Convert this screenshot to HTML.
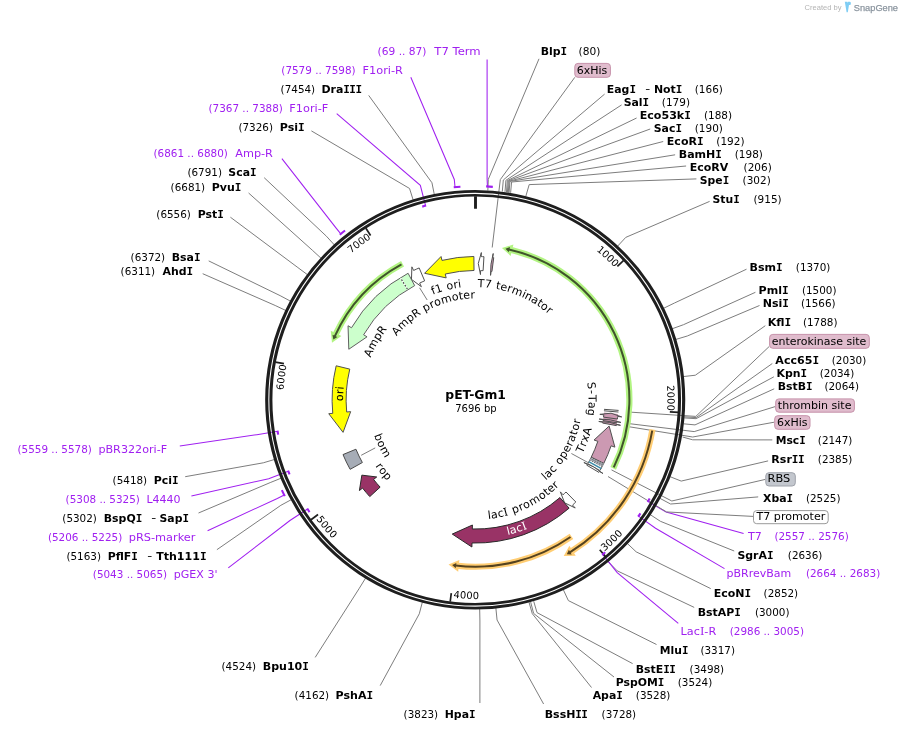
<!DOCTYPE html>
<html lang="en"><head><meta charset="utf-8"><title>pET-Gm1 map</title>
<style>
html,body{margin:0;padding:0;background:#fff}
body{width:902px;height:731px;overflow:hidden}
svg{display:block;font-family:'DejaVu Sans','Liberation Sans',sans-serif}
svg text{white-space:pre}
</style></head><body>
<svg width="902" height="731" viewBox="0 0 902 731">
<defs>

</defs>
<rect width="902" height="731" fill="#fff"/>
<polyline points="539,58.8 488.3,179.3 487.85,190.5" fill="none" stroke="#7d7d7d" stroke-width="1"/>
<polyline points="604.6,94.1 503.3,180 502.3,191.5" fill="none" stroke="#7d7d7d" stroke-width="1"/>
<polyline points="621.6,104.9 505.9,180.3 505,191.9" fill="none" stroke="#7d7d7d" stroke-width="1"/>
<polyline points="636.6,118 507.3,180.6 506.5,192" fill="none" stroke="#7d7d7d" stroke-width="1"/>
<polyline points="650.2,129 508.3,180.8 507.4,192.2" fill="none" stroke="#7d7d7d" stroke-width="1"/>
<polyline points="663.2,141.5 509.1,181.2 508.3,192.4" fill="none" stroke="#7d7d7d" stroke-width="1"/>
<polyline points="675.1,154.8 509.9,181.4 509.1,192.6" fill="none" stroke="#7d7d7d" stroke-width="1"/>
<polyline points="686.1,166 511.6,182 510.6,192.8" fill="none" stroke="#7d7d7d" stroke-width="1"/>
<polyline points="696.4,178.9 529.2,184.6 525.9,196" fill="none" stroke="#7d7d7d" stroke-width="1"/>
<polyline points="709.6,201.4 625.76,237.38 617.34,246.48" fill="none" stroke="#7d7d7d" stroke-width="1"/>
<polyline points="746.5,269.2 674.45,303.03 663.29,308.45" fill="none" stroke="#7d7d7d" stroke-width="1"/>
<polyline points="755.4,292.3 683.57,324.66 671.91,328.87" fill="none" stroke="#7d7d7d" stroke-width="1"/>
<polyline points="759.5,305.5 687.31,335.99 675.44,339.56" fill="none" stroke="#7d7d7d" stroke-width="1"/>
<polyline points="765.3,325.7 695.34,375.23 683.01,376.6" fill="none" stroke="#7d7d7d" stroke-width="1"/>
<polyline points="772.3,363.5 696.1,417.6 684.1,416.8" fill="none" stroke="#7d7d7d" stroke-width="1"/>
<polyline points="773.9,376.8 696.1,418.7 684.1,417.9" fill="none" stroke="#7d7d7d" stroke-width="1"/>
<polyline points="774.2,388.8 695,424.9 683.4,423.8" fill="none" stroke="#7d7d7d" stroke-width="1"/>
<polyline points="772.3,439.9 692.7,439.8 682.6,437" fill="none" stroke="#7d7d7d" stroke-width="1"/>
<polyline points="768.1,460.9 681.21,481.09 669.68,476.53" fill="none" stroke="#7d7d7d" stroke-width="1"/>
<polyline points="758.2,496.9 670.59,504.03 659.65,498.19" fill="none" stroke="#7d7d7d" stroke-width="1"/>
<polyline points="734.2,551 660.35,521.27 649.99,514.46" fill="none" stroke="#7d7d7d" stroke-width="1"/>
<polyline points="710.7,588.6 636.17,551.83 627.16,543.31" fill="none" stroke="#7d7d7d" stroke-width="1"/>
<polyline points="694.2,607.4 617.2,570.8 608,561.5" fill="none" stroke="#7d7d7d" stroke-width="1"/>
<polyline points="656.5,644.5 568.36,600.58 563.15,589.33" fill="none" stroke="#7d7d7d" stroke-width="1"/>
<polyline points="632.6,663.6 537,612.6 533.7,601.2" fill="none" stroke="#7d7d7d" stroke-width="1"/>
<polyline points="614,677 533.6,613.4 530.6,601.8" fill="none" stroke="#7d7d7d" stroke-width="1"/>
<polyline points="591.5,687.5 532.3,613.7 529,602.2" fill="none" stroke="#7d7d7d" stroke-width="1"/>
<polyline points="543.6,704 497.05,619.99 495.83,607.65" fill="none" stroke="#7d7d7d" stroke-width="1"/>
<polyline points="479.9,703 479.92,621 479.66,608.61" fill="none" stroke="#7d7d7d" stroke-width="1"/>
<polyline points="380.2,685.6 419.29,613.82 422.43,601.82" fill="none" stroke="#7d7d7d" stroke-width="1"/>
<polyline points="315.2,657.4 359.37,588.19 365.87,577.63" fill="none" stroke="#7d7d7d" stroke-width="1"/>
<polyline points="216.9,549.7 280.89,505.3 291.79,499.39" fill="none" stroke="#7d7d7d" stroke-width="1"/>
<polyline points="198.5,513 270.19,482.6 281.69,477.96" fill="none" stroke="#7d7d7d" stroke-width="1"/>
<polyline points="185.2,476.7 263.28,462.82 275.16,459.29" fill="none" stroke="#7d7d7d" stroke-width="1"/>
<polyline points="202.7,273.7 275.18,305.48 286.4,310.76" fill="none" stroke="#7d7d7d" stroke-width="1"/>
<polyline points="208.7,260.9 280.12,295.63 291.07,301.46" fill="none" stroke="#7d7d7d" stroke-width="1"/>
<polyline points="230.4,217.2 297.91,267.58 307.85,274.98" fill="none" stroke="#7d7d7d" stroke-width="1"/>
<polyline points="248.6,193 312.29,250.18 321.43,258.56" fill="none" stroke="#7d7d7d" stroke-width="1"/>
<polyline points="264.2,177.7 326.37,236.16 334.72,245.32" fill="none" stroke="#7d7d7d" stroke-width="1"/>
<polyline points="311.4,130.9 409.56,188.47 413.25,200.31" fill="none" stroke="#7d7d7d" stroke-width="1"/>
<polyline points="368.7,95.4 431.96,182.76 434.39,194.91" fill="none" stroke="#7d7d7d" stroke-width="1"/>
<polyline points="487.1,59.5 487.1,179 487.43,186.49" fill="none" stroke="#a020f0" stroke-width="1.05"/>
<polyline points="743.6,533.6 666.08,512.06 647.99,501.41" fill="none" stroke="#a020f0" stroke-width="1.05"/>
<polyline points="724.5,568.6 655.55,528.27 638.46,516.08" fill="none" stroke="#a020f0" stroke-width="1.05"/>
<polyline points="678.3,623.3 617.2,572.6 602.63,554.45" fill="none" stroke="#a020f0" stroke-width="1.05"/>
<polyline points="228.3,567.8 289.95,520.51 307.55,509.05" fill="none" stroke="#a020f0" stroke-width="1.05"/>
<polyline points="207.6,530.7 277.31,498.41 284.2,494.98" fill="none" stroke="#a020f0" stroke-width="1.05"/>
<polyline points="191.4,496 268.67,478.73 288.29,471.24" fill="none" stroke="#a020f0" stroke-width="1.05"/>
<polyline points="179.8,446 256.87,434.65 277.61,431.34" fill="none" stroke="#a020f0" stroke-width="1.05"/>
<polyline points="281.9,158.6 335.95,227.91 340.81,233.89" fill="none" stroke="#a020f0" stroke-width="1.05"/>
<polyline points="336.7,113.6 420.34,185.41 425.56,205.75" fill="none" stroke="#a020f0" stroke-width="1.05"/>
<polyline points="410.8,77.2 454.29,179.46 455.03,187.12" fill="none" stroke="#a020f0" stroke-width="1.05"/>
<polyline points="574.8,77.3 500.3,179.6 492.2,247.5" fill="none" stroke="#7d7d7d" stroke-width="1"/>
<polyline points="769.3,346.4 695.8,416.4 627.41,411.94" fill="none" stroke="#7d7d7d" stroke-width="1"/>
<polyline points="775.2,406.6 694.2,431.6 626.08,423.25" fill="none" stroke="#7d7d7d" stroke-width="1"/>
<polyline points="774.2,422.2 692.7,437 625.59,426.2" fill="none" stroke="#7d7d7d" stroke-width="1"/>
<polyline points="765.3,479.4 671.8,501 611.5,469.9" fill="none" stroke="#7d7d7d" stroke-width="1"/>
<polyline points="753,516.4 666.5,511.95 608,476.5" fill="none" stroke="#7d7d7d" stroke-width="1"/>
<polyline points="419.6,287.8 427.2,300" fill="none" stroke="#7d7d7d" stroke-width="1"/>
<polyline points="361.2,455.3 375.2,447.9" fill="none" stroke="#7d7d7d" stroke-width="1"/>
<polyline points="571.4,453.5 587.9,462.5" fill="none" stroke="#7d7d7d" stroke-width="1"/>
<path d="M265.15 399.75A210.05 209.8 0 1 0 685.25 399.75A210.05 209.8 0 1 0 265.15 399.75ZM268.3 399.75A206.9 206.9 0 1 0 682.1 399.75A206.9 206.9 0 1 0 268.3 399.75Z" fill="#1e1e1e" fill-rule="evenodd"/>
<path d="M269.35 399.75A205.85 205.8 0 1 0 681.05 399.75A205.85 205.8 0 1 0 269.35 399.75ZM272.4 399.75A202.8 203.2 0 1 0 678 399.75A202.8 203.2 0 1 0 272.4 399.75Z" fill="#1e1e1e" fill-rule="evenodd"/>
<line x1="475.5" y1="196.25" x2="475.5" y2="208.75" stroke="#1e1e1e" stroke-width="2.9"/>
<line x1="623.69" y1="260.39" x2="617.35" y2="266.34" stroke="#1e1e1e" stroke-width="1.7"/>
<line x1="678.51" y1="412.37" x2="669.83" y2="411.83" stroke="#1e1e1e" stroke-width="1.7"/>
<line x1="605.3" y1="556.4" x2="599.75" y2="549.7" stroke="#1e1e1e" stroke-width="1.7"/>
<line x1="450.21" y1="601.69" x2="451.29" y2="593.05" stroke="#1e1e1e" stroke-width="1.7"/>
<line x1="311" y1="519.69" x2="318.03" y2="514.56" stroke="#1e1e1e" stroke-width="1.7"/>
<line x1="275.42" y1="362.09" x2="283.97" y2="363.7" stroke="#1e1e1e" stroke-width="1.7"/>
<line x1="365.89" y1="228.23" x2="370.57" y2="235.56" stroke="#1e1e1e" stroke-width="1.7"/>
<path d="M486.13 186.42A213.6 213.6 0 0 1 492.81 186.86" fill="none" stroke="#a020f0" stroke-width="2.1"/>
<path d="M649.69 498.46A200.3 200.3 0 0 1 647.68 501.92" fill="none" stroke="#a020f0" stroke-width="2.1"/>
<path d="M640.41 513.29A200.3 200.3 0 0 1 638.11 516.56" fill="none" stroke="#a020f0" stroke-width="2.1"/>
<path d="M605.23 552.27A200.3 200.3 0 0 1 602.16 554.83" fill="none" stroke="#a020f0" stroke-width="2.1"/>
<path d="M309.54 512.05A200.3 200.3 0 0 1 307.22 508.55" fill="none" stroke="#a020f0" stroke-width="2.1"/>
<path d="M284.79 496.14A213.6 213.6 0 0 1 281.86 490.11" fill="none" stroke="#a020f0" stroke-width="2.1"/>
<path d="M289.53 474.4A200.3 200.3 0 0 1 288.08 470.68" fill="none" stroke="#a020f0" stroke-width="2.1"/>
<path d="M278.17 434.69A200.3 200.3 0 0 1 277.51 430.75" fill="none" stroke="#a020f0" stroke-width="2.1"/>
<path d="M339.8 234.71A213.6 213.6 0 0 1 345.04 230.54" fill="none" stroke="#a020f0" stroke-width="2.1"/>
<path d="M422.24 206.63A200.3 200.3 0 0 1 426.14 205.6" fill="none" stroke="#a020f0" stroke-width="2.1"/>
<path d="M453.73 187.25A213.6 213.6 0 0 1 460.41 186.68" fill="none" stroke="#a020f0" stroke-width="2.1"/>
<text aria-label="1000" font-size="9.9" fill="#000" x="596.19 601.02 605.71 610.27" y="250.47 254.51 258.71 263.06" rotate="39.92 41.8 43.68 45.55">1000</text>
<text aria-label="2000" font-size="9.9" fill="#000" x="666.9 667.26 667.42 667.37" y="385.54 391.82 398.12 404.42" rotate="86.7 88.57 90.45 92.33">2000</text>
<text aria-label="3000" font-size="9.9" fill="#000" x="604.41 609.33 614.09 618.71" y="551.56 547.24 542.77 538.14" rotate="-41.26 -43.15 -45.03 -46.91">3000</text>
<text aria-label="4000" font-size="9.9" fill="#000" x="453.13 459.64 466.16 472.7" y="597.73 598.35 598.76 598.96" rotate="5.51 3.63 1.75 -0.13">4000</text>
<text aria-label="5000" font-size="9.9" fill="#000" x="315.88 319.88 324.06 328.39" y="519.1 524.27 529.31 534.21" rotate="52.29 50.41 48.53 46.65">5000</text>
<text aria-label="6000" font-size="9.9" fill="#000" x="283.61 284.03 284.66 285.48" y="390.15 383.87 377.6 371.36" rotate="273.81 275.68 277.56 279.44">6000</text>
<text aria-label="7000" font-size="9.9" fill="#000" x="351.05 355.92 360.91 366.03" y="253.42 249.42 245.59 241.92" rotate="320.58 322.46 324.34 326.22">7000</text>
<path d="M613.21 468.48A154 154 0 0 0 511.52 250.05" fill="none" stroke="#b2f482" stroke-width="6.2"/>
<path d="M501.93 248.05L513.41 244.43L510.6 255.89Z" fill="#b2f482"/>
<path d="M613.74 467.4A154 154 0 0 0 508.89 249.44" fill="none" stroke="#40542b" stroke-width="2.0"/>
<path d="M505.46 248.71L509.97 246.91L508.78 252.18Z" fill="#40542b"/>
<path d="M402.55 263.73A154.3 154.3 0 0 0 335.88 333.86" fill="none" stroke="#b2f482" stroke-width="6.2"/>
<path d="M331.98 342.85L330.76 330.87L341.42 335.94Z" fill="#b2f482"/>
<path d="M401.49 264.3A154.3 154.3 0 0 0 334.74 336.31" fill="none" stroke="#40542b" stroke-width="2.0"/>
<path d="M333.34 339.52L332.49 334.74L337.41 336.97Z" fill="#40542b"/>
<path d="M652.43 429.43A179.5 179.5 0 0 1 572.14 550.95" fill="none" stroke="#ffcd73" stroke-width="6.2"/>
<path d="M563.75 556L575.76 555.64L569.37 545.72Z" fill="#ffcd73"/>
<path d="M652.23 430.61A179.5 179.5 0 0 1 569.86 552.39" fill="none" stroke="#54421f" stroke-width="2.0"/>
<path d="M566.86 554.2L571.71 554.42L568.85 549.83Z" fill="#54421f"/>
<path d="M571.45 536.36A167 167 0 0 1 458.26 565.87" fill="none" stroke="#ffcd73" stroke-width="6.2"/>
<path d="M448.55 564.58L458.17 571.79L459.35 560.05Z" fill="#ffcd73"/>
<path d="M570.47 537.05A167 167 0 0 1 455.58 565.57" fill="none" stroke="#54421f" stroke-width="2.0"/>
<path d="M452.11 565.12L455.76 568.31L456.39 562.95Z" fill="#54421f"/>
<path d="M483.1 270.68L483.94 256.7A143.3 143.3 0 0 0 481.19 256.57L481.35 252.57L478.29 263.48L480.46 274.55L480.62 270.56A129.3 129.3 0 0 1 483.1 270.68Z" fill="#ffffff" stroke="#505050" stroke-width="1" stroke-linejoin="miter"/>
<path d="M491.93 271.51L493.72 257.63A143.3 143.3 0 0 0 492.73 257.5L493.21 253.53L490.95 264.34L490.55 275.37L491.04 271.4A129.3 129.3 0 0 1 491.93 271.51Z" fill="#cc99b2" stroke="#505050" stroke-width="1" stroke-linejoin="miter"/>
<path d="M604.04 409.33L618.6 410.41" stroke="#505050" stroke-width="1"/>
<path d="M603.93 410.79L618.47 412.04" stroke="#505050" stroke-width="1"/>
<path d="M604.07 412.5L618 413.88A143.3 143.3 0 0 1 616.35 425.58L602.58 423.06A129.3 129.3 0 0 0 604.07 412.5Z" fill="#cc99b2" stroke="none" stroke-width="0"/>
<path d="M603.53 417.12L617.4 419A143.3 143.3 0 0 0 617.72 416.44L621.7 416.91L611.04 413.19L599.85 414.35L603.82 414.81A129.3 129.3 0 0 1 603.53 417.12Z" fill="#cc99b2" stroke="#505050" stroke-width="1" stroke-linejoin="miter"/>
<path d="M603.01 420.56L616.83 422.81A143.3 143.3 0 0 0 616.99 421.83L620.94 422.45L610.21 419.82L599.2 419.06L603.16 419.67A129.3 129.3 0 0 1 603.01 420.56Z" fill="#cc99b2" stroke="#505050" stroke-width="1" stroke-linejoin="miter"/>
<path d="M602.58 423.06L616.35 425.58A143.3 143.3 0 0 0 616.53 424.6L620.47 425.3L609.8 422.46L598.8 421.48L602.74 422.17A129.3 129.3 0 0 1 602.58 423.06Z" fill="#cc99b2" stroke="#505050" stroke-width="1" stroke-linejoin="miter"/>
<path d="M591.23 457.21L603.77 463.43A143.3 143.3 0 0 0 611.09 445.83L614.88 447.12L609.14 426.07L594.04 440.04L597.83 441.33A129.3 129.3 0 0 1 591.23 457.21Z" fill="#cc99b2" stroke="#505050" stroke-width="1" stroke-linejoin="miter"/>
<path d="M591.19 457.3L603.72 463.53A143.3 143.3 0 0 1 599.99 470.55L587.81 463.64A129.3 129.3 0 0 0 591.19 457.3Z" fill="#ffffff" stroke="#505050" stroke-width="0.9"/>
<path d="M591.19 457.3L603.72 463.53A143.3 143.3 0 0 1 602.18 466.55L589.79 460.03A129.3 129.3 0 0 0 591.19 457.3Z" fill="#aeb2ba" stroke="none" stroke-width="0"/>
<path d="M591.19 457.3L603.72 463.53" stroke="#3a3a3a" stroke-width="0.8" stroke-dasharray="1 1" stroke-dashoffset="0"/>
<path d="M590.52 458.62L602.99 464.99" stroke="#3a3a3a" stroke-width="0.8" stroke-dasharray="1 1" stroke-dashoffset="0.66"/>
<path d="M589.79 460.03L602.18 466.55" stroke="#3a3a3a" stroke-width="0.8" stroke-dasharray="1 1" stroke-dashoffset="1.32"/>
<path d="M589.15 461.24L601.46 467.89A143.3 143.3 0 0 1 600.9 468.92L588.64 462.16A129.3 129.3 0 0 0 589.15 461.24Z" fill="#2e86a3" stroke="#2e86a3" stroke-width="0.3"/>
<path d="M586.86 465.28L598.93 472.38A143.3 143.3 0 0 0 599.46 471.47L602.93 473.47L593.9 467.1L583.88 462.46L587.34 464.46A129.3 129.3 0 0 1 586.86 465.28Z" fill="#ffffff" stroke="#505050" stroke-width="1" stroke-linejoin="miter"/>
<path d="M566 492L575.81 501.98A143.3 143.3 0 0 1 572.55 505.09L575.26 508.03L564.61 502.8L560.35 491.86L563.06 494.8A129.3 129.3 0 0 0 566 492Z" fill="#ffffff" stroke="#505050" stroke-width="1" stroke-linejoin="miter"/>
<path d="M559.95 497.58L569.1 508.17A143.3 143.3 0 0 1 471.98 543.01L471.88 547.01L452.26 534.07L472.41 525.01L472.31 529.01A129.3 129.3 0 0 0 559.95 497.58Z" fill="#993366" stroke="#2a2a2a" stroke-width="1" stroke-linejoin="miter"/>
<path d="M380.1 487.14L369.78 496.6A143.3 143.3 0 0 1 362.56 488.08L359.41 490.55L361.85 475.15L376.73 476.98L373.58 479.45A129.3 129.3 0 0 0 380.1 487.14Z" fill="#993366" stroke="#2a2a2a" stroke-width="1" stroke-linejoin="miter"/>
<path d="M362.37 462.53L350.13 469.33A143.3 143.3 0 0 1 343.01 454.59L355.94 449.23A129.3 129.3 0 0 0 362.37 462.53Z" fill="#a6acb6" stroke="#4a4a4a" stroke-width="1"/>
<path d="M349.78 369.11L336.18 365.8A143.3 143.3 0 0 0 332.75 413.33L328.76 413.71L343.06 432.37L350.66 411.63L346.68 412.01A129.3 129.3 0 0 1 349.78 369.11Z" fill="#ffff00" stroke="#505050" stroke-width="1" stroke-linejoin="miter"/>
<path d="M414.66 285.61L408.08 273.25A143.3 143.3 0 0 0 351.5 327.76L348.04 325.75L348.8 349.24L367.06 336.8L363.6 334.79A129.3 129.3 0 0 1 414.66 285.61Z" fill="#ccffcc" stroke="#606060" stroke-width="1" stroke-linejoin="miter"/>
<path d="M407.38 289.08L400.68 278.18" stroke="#ffffff" stroke-width="1.3"/>
<path d="M407.38 289.08L400.68 278.18" stroke="#333" stroke-width="1.1" stroke-dasharray="1.6 1.6"/>
<path d="M424.65 280.82L419.16 267.95A143.3 143.3 0 0 0 413.62 270.45L411.89 266.84L411.47 279.37L421.38 286.69L419.65 283.09A129.3 129.3 0 0 1 424.65 280.82Z" fill="#ffffff" stroke="#505050" stroke-width="1" stroke-linejoin="miter"/>
<path d="M474.03 270.46L473.88 256.46A143.3 143.3 0 0 0 441.98 260.4L441.05 256.51L424.58 273.28L446.18 277.9L445.25 274.01A129.3 129.3 0 0 1 474.03 270.46Z" fill="#ffff00" stroke="#505050" stroke-width="1" stroke-linejoin="miter"/>
<text aria-label="T7 terminator" font-size="11" fill="#000" x="477.6 484.51 491.77 495.52 499.79 506.46 511.08 521.16 524.04 530.32 536.16 539.86 545.41" y="287.02 287.36 288.23 288.84 289.67 291.39 292.71 296.75 298.03 301.28 304.81 307.24 311.4" rotate="2.82 6.41 9.24 11.38 14.22 17.15 21.16 24.73 27.33 30.86 33.71 36.58 39.54">T7 terminator</text>
<text aria-label="f1 ori" font-size="11" fill="#000" x="432.85 436.57 443.54 447.18 453.95 458.57" y="294.83 293.36 291.11 290.07 288.58 287.8" rotate="-21.1 -18.28 -15.46 -12.73 -9.78 -7.78">f1 ori</text>
<text aria-label="AmpR promoter" font-size="11" fill="#000" x="396.46 401.52 409.45 415.01 421.64 424.85 431.2 435.5 441.94 452.45 459.2 463.52 470.4" y="336.15 330.24 322.78 318.33 313.87 311.9 308.58 306.58 303.99 301.03 299.73 299.09 298.55" rotate="-49.01 -43.72 -38.62 -34.4 -31.06 -27.94 -24.59 -21.28 -16.23 -11.18 -7.98 -4.82 -1.55">AmpR promoter</text>
<text aria-label="AmpR" font-size="11" fill="#000" x="370.38 373.44 378.68 382.53" y="357.86 350.74 341.22 335.26" rotate="-66.35 -61.61 -57.05 -53.29">AmpR</text>
<text aria-label="S-Tag" font-size="11" fill="#000" x="587.32 588.22 588.55 588.63 588.31" y="382.39 390.26 394.9 401.75 408.52" rotate="82.95 86.2 89.25 92.72 96.21">S-Tag</text>
<text aria-label="ori" font-size="11" fill="#000" x="343.07 343.19 343.48" y="401.21 394.3 389.64" rotate="270.83 273.34 275.04">ori</text>
<text aria-label="TrxA" font-size="11" fill="#000" x="582.4 585.45 587.35 589.68" y="453.73 447.15 442.52 435.9" rotate="-64.84 -67.78 -70.65 -74.25">TrxA</text>
<text aria-label="lac operator" font-size="11" fill="#000" x="545.81 548.34 553.32 557.59 560.19 564.4 568.29 571.65 573.78 576.37 577.9 579.77" y="480.6 478.38 473.44 468.59 465.43 459.61 453.37 447 442.47 435.83 431.34 424.33" rotate="-41.87 -44.65 -48.21 -50.99 -54.03 -57.94 -61.81 -65.06 -68.33 -71.49 -74.67 -77.95">lac operator</text>
<text aria-label="lacI promoter" font-size="11" fill="#000" x="488.24 491.53 498.4 504.64 509.45 513.28 520.23 524.83 531.44 541.15 546.96 550.62 556.04" y="519.07 518.71 517.56 516.15 514.83 513.67 511.08 509.15 505.99 500.19 496.1 493.31 488.64" rotate="-6.87 -9.33 -12.49 -15.14 -17.32 -20.06 -23.01 -25.92 -30.37 -34.81 -37.63 -40.42 -43.29">lac<tspan font-family="'DejaVu Serif','Liberation Serif',serif">I</tspan> promoter</text>
<text aria-label="lacI" font-size="11" fill="#fff" x="507.68 510.86 517.48 523.48" y="534.96 534.19 532.26 530.19" rotate="-14.06 -16.16 -18.86 -21.13">lac<tspan font-family="'DejaVu Serif','Liberation Serif',serif">I</tspan></text>
<text aria-label="rop" font-size="11" fill="#000" x="375.34 378.16 382.51" y="466.03 470.15 475.8" rotate="55.4 52.49 49.03">rop</text>
<text aria-label="bom" font-size="11" fill="#000" x="373.99 376.7 379.78" y="435.29 442.22 448.95" rotate="68.82 64.93 59.92">bom</text>
<text aria-label="BlpI" x="540.74" y="55" font-size="11" font-weight="bold" fill="#000" textLength="25.84" lengthAdjust="spacingAndGlyphs">Blp<tspan font-family="'DejaVu Sans Mono','Liberation Mono',monospace" letter-spacing="-0.6">I</tspan></text>
<text x="578.64" y="55" font-size="10" fill="#000" textLength="21.8" lengthAdjust="spacingAndGlyphs">(80)</text>
<text aria-label="EagI" x="606.84" y="92.8" font-size="11" font-weight="bold" fill="#000" textLength="28.56" lengthAdjust="spacingAndGlyphs">Eag<tspan font-family="'DejaVu Sans Mono','Liberation Mono',monospace" letter-spacing="-0.6">I</tspan></text>
<text x="645.16" y="91.9" font-size="11" fill="#000" textLength="4.99" lengthAdjust="spacingAndGlyphs">-</text>
<text aria-label="NotI" x="653.94" y="92.8" font-size="11" font-weight="bold" fill="#000" textLength="27.9" lengthAdjust="spacingAndGlyphs">Not<tspan font-family="'DejaVu Sans Mono','Liberation Mono',monospace" letter-spacing="-0.6">I</tspan></text>
<text x="694.74" y="92.8" font-size="10" fill="#000" textLength="28.16" lengthAdjust="spacingAndGlyphs">(166)</text>
<text aria-label="SalI" x="623.65" y="105.8" font-size="11" font-weight="bold" fill="#000" textLength="24.93" lengthAdjust="spacingAndGlyphs">Sal<tspan font-family="'DejaVu Sans Mono','Liberation Mono',monospace" letter-spacing="-0.6">I</tspan></text>
<text x="661.84" y="105.8" font-size="10" fill="#000" textLength="28.16" lengthAdjust="spacingAndGlyphs">(179)</text>
<text aria-label="Eco53kI" x="639.74" y="118.8" font-size="11" font-weight="bold" fill="#000" textLength="50.57" lengthAdjust="spacingAndGlyphs">Eco53k<tspan font-family="'DejaVu Sans Mono','Liberation Mono',monospace" letter-spacing="-0.6">I</tspan></text>
<text x="703.94" y="118.8" font-size="10" fill="#000" textLength="28.16" lengthAdjust="spacingAndGlyphs">(188)</text>
<text aria-label="SacI" x="653.75" y="131.8" font-size="11" font-weight="bold" fill="#000" textLength="27.63" lengthAdjust="spacingAndGlyphs">Sac<tspan font-family="'DejaVu Sans Mono','Liberation Mono',monospace" letter-spacing="-0.6">I</tspan></text>
<text x="694.74" y="131.8" font-size="10" fill="#000" textLength="28.16" lengthAdjust="spacingAndGlyphs">(190)</text>
<text aria-label="EcoRI" x="666.84" y="144.8" font-size="11" font-weight="bold" fill="#000" textLength="36.15" lengthAdjust="spacingAndGlyphs">EcoR<tspan font-family="'DejaVu Sans Mono','Liberation Mono',monospace" letter-spacing="-0.6">I</tspan></text>
<text x="716.34" y="144.8" font-size="10" fill="#000" textLength="28.16" lengthAdjust="spacingAndGlyphs">(192)</text>
<text aria-label="BamHI" x="678.74" y="157.8" font-size="11" font-weight="bold" fill="#000" textLength="42.58" lengthAdjust="spacingAndGlyphs">BamH<tspan font-family="'DejaVu Sans Mono','Liberation Mono',monospace" letter-spacing="-0.6">I</tspan></text>
<text x="734.74" y="157.8" font-size="10" fill="#000" textLength="28.16" lengthAdjust="spacingAndGlyphs">(198)</text>
<text aria-label="EcoRV" x="689.74" y="170.8" font-size="11" font-weight="bold" fill="#000" textLength="38.54" lengthAdjust="spacingAndGlyphs">EcoRV</text>
<text x="743.64" y="170.8" font-size="10" fill="#000" textLength="28.16" lengthAdjust="spacingAndGlyphs">(206)</text>
<text aria-label="SpeI" x="699.75" y="183.8" font-size="11" font-weight="bold" fill="#000" textLength="28.81" lengthAdjust="spacingAndGlyphs">Spe<tspan font-family="'DejaVu Sans Mono','Liberation Mono',monospace" letter-spacing="-0.6">I</tspan></text>
<text x="742.64" y="183.8" font-size="10" fill="#000" textLength="28.16" lengthAdjust="spacingAndGlyphs">(302)</text>
<text aria-label="StuI" x="712.45" y="202.9" font-size="11" font-weight="bold" fill="#000" textLength="26.66" lengthAdjust="spacingAndGlyphs">Stu<tspan font-family="'DejaVu Sans Mono','Liberation Mono',monospace" letter-spacing="-0.6">I</tspan></text>
<text x="753.54" y="202.9" font-size="10" fill="#000" textLength="28.16" lengthAdjust="spacingAndGlyphs">(915)</text>
<text aria-label="BsmI" x="749.64" y="270.7" font-size="11" font-weight="bold" fill="#000" textLength="32.55" lengthAdjust="spacingAndGlyphs">Bsm<tspan font-family="'DejaVu Sans Mono','Liberation Mono',monospace" letter-spacing="-0.6">I</tspan></text>
<text x="795.84" y="270.7" font-size="10" fill="#000" textLength="34.52" lengthAdjust="spacingAndGlyphs">(1370)</text>
<text aria-label="PmlI" x="758.64" y="293.8" font-size="11" font-weight="bold" fill="#000" textLength="29.47" lengthAdjust="spacingAndGlyphs">Pml<tspan font-family="'DejaVu Sans Mono','Liberation Mono',monospace" letter-spacing="-0.6">I</tspan></text>
<text x="801.94" y="293.8" font-size="10" fill="#000" textLength="34.52" lengthAdjust="spacingAndGlyphs">(1500)</text>
<text aria-label="NsiI" x="762.79" y="306.8" font-size="11" font-weight="bold" fill="#000" textLength="25.61" lengthAdjust="spacingAndGlyphs">Nsi<tspan font-family="'DejaVu Sans Mono','Liberation Mono',monospace" letter-spacing="-0.6">I</tspan></text>
<text x="801.04" y="306.8" font-size="10" fill="#000" textLength="34.52" lengthAdjust="spacingAndGlyphs">(1566)</text>
<text aria-label="KflI" x="767.74" y="325.7" font-size="11" font-weight="bold" fill="#000" textLength="22.89" lengthAdjust="spacingAndGlyphs">Kfl<tspan font-family="'DejaVu Sans Mono','Liberation Mono',monospace" letter-spacing="-0.6">I</tspan></text>
<text x="802.94" y="325.7" font-size="10" fill="#000" textLength="34.52" lengthAdjust="spacingAndGlyphs">(1788)</text>
<text aria-label="Acc65I" x="775.35" y="363.8" font-size="11" font-weight="bold" fill="#000" textLength="43.12" lengthAdjust="spacingAndGlyphs">Acc65<tspan font-family="'DejaVu Sans Mono','Liberation Mono',monospace" letter-spacing="-0.6">I</tspan></text>
<text x="831.74" y="363.8" font-size="10" fill="#000" textLength="34.52" lengthAdjust="spacingAndGlyphs">(2030)</text>
<text aria-label="KpnI" x="776.54" y="376.8" font-size="11" font-weight="bold" fill="#000" textLength="30.01" lengthAdjust="spacingAndGlyphs">Kpn<tspan font-family="'DejaVu Sans Mono','Liberation Mono',monospace" letter-spacing="-0.6">I</tspan></text>
<text x="819.74" y="376.8" font-size="10" fill="#000" textLength="34.52" lengthAdjust="spacingAndGlyphs">(2034)</text>
<text aria-label="BstBI" x="777.64" y="389.8" font-size="11" font-weight="bold" fill="#000" textLength="34.31" lengthAdjust="spacingAndGlyphs">BstB<tspan font-family="'DejaVu Sans Mono','Liberation Mono',monospace" letter-spacing="-0.6">I</tspan></text>
<text x="824.44" y="389.8" font-size="10" fill="#000" textLength="34.52" lengthAdjust="spacingAndGlyphs">(2064)</text>
<text aria-label="MscI" x="775.74" y="444.1" font-size="11" font-weight="bold" fill="#000" textLength="29.43" lengthAdjust="spacingAndGlyphs">Msc<tspan font-family="'DejaVu Sans Mono','Liberation Mono',monospace" letter-spacing="-0.6">I</tspan></text>
<text x="817.84" y="444.1" font-size="10" fill="#000" textLength="34.52" lengthAdjust="spacingAndGlyphs">(2147)</text>
<text aria-label="RsrII" x="771.34" y="463.2" font-size="11" font-weight="bold" fill="#000" textLength="32.6" lengthAdjust="spacingAndGlyphs">Rsr<tspan font-family="'DejaVu Sans Mono','Liberation Mono',monospace" letter-spacing="-0.6">I</tspan><tspan font-family="'DejaVu Sans Mono','Liberation Mono',monospace" letter-spacing="-0.6">I</tspan></text>
<text x="817.84" y="463.2" font-size="10" fill="#000" textLength="34.52" lengthAdjust="spacingAndGlyphs">(2385)</text>
<text aria-label="XbaI" x="763.1" y="501.6" font-size="11" font-weight="bold" fill="#000" textLength="29.45" lengthAdjust="spacingAndGlyphs">Xba<tspan font-family="'DejaVu Sans Mono','Liberation Mono',monospace" letter-spacing="-0.6">I</tspan></text>
<text x="805.94" y="501.6" font-size="10" fill="#000" textLength="34.52" lengthAdjust="spacingAndGlyphs">(2525)</text>
<text aria-label="SgrAI" x="737.45" y="558.6" font-size="11" font-weight="bold" fill="#000" textLength="35.51" lengthAdjust="spacingAndGlyphs">SgrA<tspan font-family="'DejaVu Sans Mono','Liberation Mono',monospace" letter-spacing="-0.6">I</tspan></text>
<text x="787.84" y="558.6" font-size="10" fill="#000" textLength="34.52" lengthAdjust="spacingAndGlyphs">(2636)</text>
<text aria-label="EcoNI" x="713.74" y="596.6" font-size="11" font-weight="bold" fill="#000" textLength="36.86" lengthAdjust="spacingAndGlyphs">EcoN<tspan font-family="'DejaVu Sans Mono','Liberation Mono',monospace" letter-spacing="-0.6">I</tspan></text>
<text x="763.64" y="596.6" font-size="10" fill="#000" textLength="34.52" lengthAdjust="spacingAndGlyphs">(2852)</text>
<text aria-label="BstAPI" x="697.74" y="615.6" font-size="11" font-weight="bold" fill="#000" textLength="42.53" lengthAdjust="spacingAndGlyphs">BstAP<tspan font-family="'DejaVu Sans Mono','Liberation Mono',monospace" letter-spacing="-0.6">I</tspan></text>
<text x="754.94" y="615.6" font-size="10" fill="#000" textLength="34.52" lengthAdjust="spacingAndGlyphs">(3000)</text>
<text aria-label="MluI" x="659.84" y="653.7" font-size="11" font-weight="bold" fill="#000" textLength="28.03" lengthAdjust="spacingAndGlyphs">Mlu<tspan font-family="'DejaVu Sans Mono','Liberation Mono',monospace" letter-spacing="-0.6">I</tspan></text>
<text x="700.44" y="653.7" font-size="10" fill="#000" textLength="34.52" lengthAdjust="spacingAndGlyphs">(3317)</text>
<text aria-label="BstEII" x="635.74" y="672.6" font-size="11" font-weight="bold" fill="#000" textLength="39.45" lengthAdjust="spacingAndGlyphs">BstE<tspan font-family="'DejaVu Sans Mono','Liberation Mono',monospace" letter-spacing="-0.6">I</tspan><tspan font-family="'DejaVu Sans Mono','Liberation Mono',monospace" letter-spacing="-0.6">I</tspan></text>
<text x="689.64" y="672.6" font-size="10" fill="#000" textLength="34.52" lengthAdjust="spacingAndGlyphs">(3498)</text>
<text aria-label="PspOMI" x="615.74" y="685.7" font-size="11" font-weight="bold" fill="#000" textLength="48.06" lengthAdjust="spacingAndGlyphs">PspOM<tspan font-family="'DejaVu Sans Mono','Liberation Mono',monospace" letter-spacing="-0.6">I</tspan></text>
<text x="677.74" y="685.7" font-size="10" fill="#000" textLength="34.52" lengthAdjust="spacingAndGlyphs">(3524)</text>
<text aria-label="ApaI" x="592.65" y="698.7" font-size="11" font-weight="bold" fill="#000" textLength="29.58" lengthAdjust="spacingAndGlyphs">Apa<tspan font-family="'DejaVu Sans Mono','Liberation Mono',monospace" letter-spacing="-0.6">I</tspan></text>
<text x="635.84" y="698.7" font-size="10" fill="#000" textLength="34.52" lengthAdjust="spacingAndGlyphs">(3528)</text>
<text aria-label="BssHII" x="544.74" y="717.7" font-size="11" font-weight="bold" fill="#000" textLength="42.65" lengthAdjust="spacingAndGlyphs">BssH<tspan font-family="'DejaVu Sans Mono','Liberation Mono',monospace" letter-spacing="-0.6">I</tspan><tspan font-family="'DejaVu Sans Mono','Liberation Mono',monospace" letter-spacing="-0.6">I</tspan></text>
<text x="601.64" y="717.7" font-size="10" fill="#000" textLength="34.52" lengthAdjust="spacingAndGlyphs">(3728)</text>
<text aria-label="HpaI" x="444.74" y="717.7" font-size="11" font-weight="bold" fill="#000" textLength="30.25" lengthAdjust="spacingAndGlyphs">Hpa<tspan font-family="'DejaVu Sans Mono','Liberation Mono',monospace" letter-spacing="-0.6">I</tspan></text>
<text x="403.64" y="717.7" font-size="10" fill="#000" textLength="34.52" lengthAdjust="spacingAndGlyphs">(3823)</text>
<text aria-label="PshAI" x="335.54" y="698.5" font-size="11" font-weight="bold" fill="#000" textLength="36.96" lengthAdjust="spacingAndGlyphs">PshA<tspan font-family="'DejaVu Sans Mono','Liberation Mono',monospace" letter-spacing="-0.6">I</tspan></text>
<text x="294.64" y="698.5" font-size="10" fill="#000" textLength="34.52" lengthAdjust="spacingAndGlyphs">(4162)</text>
<text aria-label="Bpu10I" x="262.74" y="669.8" font-size="11" font-weight="bold" fill="#000" textLength="45.55" lengthAdjust="spacingAndGlyphs">Bpu10<tspan font-family="'DejaVu Sans Mono','Liberation Mono',monospace" letter-spacing="-0.6">I</tspan></text>
<text x="221.54" y="669.8" font-size="10" fill="#000" textLength="34.52" lengthAdjust="spacingAndGlyphs">(4524)</text>
<text aria-label="PflFI" x="107.64" y="559.6" font-size="11" font-weight="bold" fill="#000" textLength="29.62" lengthAdjust="spacingAndGlyphs">PflF<tspan font-family="'DejaVu Sans Mono','Liberation Mono',monospace" letter-spacing="-0.6">I</tspan></text>
<text x="147.16" y="558.7" font-size="11" fill="#000" textLength="4.99" lengthAdjust="spacingAndGlyphs">-</text>
<text aria-label="Tth111I" x="156.15" y="559.6" font-size="11" font-weight="bold" fill="#000" textLength="49.82" lengthAdjust="spacingAndGlyphs">Tth111<tspan font-family="'DejaVu Sans Mono','Liberation Mono',monospace" letter-spacing="-0.6">I</tspan></text>
<text x="66.44" y="559.6" font-size="10" fill="#000" textLength="34.52" lengthAdjust="spacingAndGlyphs">(5163)</text>
<text aria-label="BspQI" x="103.74" y="521.7" font-size="11" font-weight="bold" fill="#000" textLength="37.95" lengthAdjust="spacingAndGlyphs">BspQ<tspan font-family="'DejaVu Sans Mono','Liberation Mono',monospace" letter-spacing="-0.6">I</tspan></text>
<text x="151.36" y="520.8" font-size="11" fill="#000" textLength="4.99" lengthAdjust="spacingAndGlyphs">-</text>
<text aria-label="SapI" x="159.55" y="521.7" font-size="11" font-weight="bold" fill="#000" textLength="28.85" lengthAdjust="spacingAndGlyphs">Sap<tspan font-family="'DejaVu Sans Mono','Liberation Mono',monospace" letter-spacing="-0.6">I</tspan></text>
<text x="62.34" y="521.7" font-size="10" fill="#000" textLength="34.52" lengthAdjust="spacingAndGlyphs">(5302)</text>
<text aria-label="PciI" x="153.64" y="483.6" font-size="11" font-weight="bold" fill="#000" textLength="24.3" lengthAdjust="spacingAndGlyphs">Pci<tspan font-family="'DejaVu Sans Mono','Liberation Mono',monospace" letter-spacing="-0.6">I</tspan></text>
<text x="112.64" y="483.6" font-size="10" fill="#000" textLength="34.52" lengthAdjust="spacingAndGlyphs">(5418)</text>
<text aria-label="AhdI" x="162.45" y="274.8" font-size="11" font-weight="bold" fill="#000" textLength="30.06" lengthAdjust="spacingAndGlyphs">Ahd<tspan font-family="'DejaVu Sans Mono','Liberation Mono',monospace" letter-spacing="-0.6">I</tspan></text>
<text x="120.64" y="274.8" font-size="10" fill="#000" textLength="34.52" lengthAdjust="spacingAndGlyphs">(6311)</text>
<text aria-label="BsaI" x="171.74" y="260.9" font-size="11" font-weight="bold" fill="#000" textLength="28.26" lengthAdjust="spacingAndGlyphs">Bsa<tspan font-family="'DejaVu Sans Mono','Liberation Mono',monospace" letter-spacing="-0.6">I</tspan></text>
<text x="130.64" y="260.9" font-size="10" fill="#000" textLength="34.52" lengthAdjust="spacingAndGlyphs">(6372)</text>
<text aria-label="PstI" x="197.74" y="217.8" font-size="11" font-weight="bold" fill="#000" textLength="25.61" lengthAdjust="spacingAndGlyphs">Pst<tspan font-family="'DejaVu Sans Mono','Liberation Mono',monospace" letter-spacing="-0.6">I</tspan></text>
<text x="156.34" y="217.8" font-size="10" fill="#000" textLength="34.52" lengthAdjust="spacingAndGlyphs">(6556)</text>
<text aria-label="PvuI" x="211.74" y="191" font-size="11" font-weight="bold" fill="#000" textLength="29.05" lengthAdjust="spacingAndGlyphs">Pvu<tspan font-family="'DejaVu Sans Mono','Liberation Mono',monospace" letter-spacing="-0.6">I</tspan></text>
<text x="170.64" y="191" font-size="10" fill="#000" textLength="34.52" lengthAdjust="spacingAndGlyphs">(6681)</text>
<text aria-label="ScaI" x="228.35" y="175.9" font-size="11" font-weight="bold" fill="#000" textLength="27.63" lengthAdjust="spacingAndGlyphs">Sca<tspan font-family="'DejaVu Sans Mono','Liberation Mono',monospace" letter-spacing="-0.6">I</tspan></text>
<text x="187.44" y="175.9" font-size="10" fill="#000" textLength="34.52" lengthAdjust="spacingAndGlyphs">(6791)</text>
<text aria-label="PsiI" x="279.74" y="130.7" font-size="11" font-weight="bold" fill="#000" textLength="24.35" lengthAdjust="spacingAndGlyphs">Psi<tspan font-family="'DejaVu Sans Mono','Liberation Mono',monospace" letter-spacing="-0.6">I</tspan></text>
<text x="238.44" y="130.7" font-size="10" fill="#000" textLength="34.52" lengthAdjust="spacingAndGlyphs">(7326)</text>
<text aria-label="DraIII" x="321.44" y="92.8" font-size="11" font-weight="bold" fill="#000" textLength="39.96" lengthAdjust="spacingAndGlyphs">Dra<tspan font-family="'DejaVu Sans Mono','Liberation Mono',monospace" letter-spacing="-0.6">I</tspan><tspan font-family="'DejaVu Sans Mono','Liberation Mono',monospace" letter-spacing="-0.6">I</tspan><tspan font-family="'DejaVu Sans Mono','Liberation Mono',monospace" letter-spacing="-0.6">I</tspan></text>
<text x="280.64" y="92.8" font-size="10" fill="#000" textLength="34.52" lengthAdjust="spacingAndGlyphs">(7454)</text>
<text x="434.33" y="54.8" font-size="11" fill="#a020f0" textLength="46.38" lengthAdjust="spacingAndGlyphs">T7 Term</text>
<text x="377.64" y="54.8" font-size="10" fill="#a020f0" textLength="48.84" lengthAdjust="spacingAndGlyphs">(69 .. 87)</text>
<text x="748.08" y="539.5" font-size="11" fill="#a020f0" textLength="13.77" lengthAdjust="spacingAndGlyphs">T7</text>
<text x="774.44" y="539.5" font-size="10" fill="#a020f0" textLength="74.28" lengthAdjust="spacingAndGlyphs">(2557 .. 2576)</text>
<text x="726.6" y="577.4" font-size="11" fill="#a020f0" textLength="64.67" lengthAdjust="spacingAndGlyphs">pBRrevBam</text>
<text x="805.94" y="577.4" font-size="10" fill="#a020f0" textLength="74.28" lengthAdjust="spacingAndGlyphs">(2664 .. 2683)</text>
<text aria-label="LacI-R" x="680.52" y="634.5" font-size="11" fill="#a020f0" textLength="35.74" lengthAdjust="spacingAndGlyphs">Lac<tspan font-family="'DejaVu Serif','Liberation Serif',serif">I</tspan>-R</text>
<text x="729.74" y="634.5" font-size="10" fill="#a020f0" textLength="74.28" lengthAdjust="spacingAndGlyphs">(2986 .. 3005)</text>
<text x="173.8" y="578.4" font-size="11" fill="#a020f0" textLength="43.69" lengthAdjust="spacingAndGlyphs">pGEX 3&#39;</text>
<text x="92.84" y="578.4" font-size="10" fill="#a020f0" textLength="74.28" lengthAdjust="spacingAndGlyphs">(5043 .. 5065)</text>
<text x="128.7" y="540.8" font-size="11" fill="#a020f0" textLength="66.79" lengthAdjust="spacingAndGlyphs">pRS-marker</text>
<text x="47.94" y="540.8" font-size="10" fill="#a020f0" textLength="74.28" lengthAdjust="spacingAndGlyphs">(5206 .. 5225)</text>
<text x="146.42" y="502.6" font-size="11" fill="#a020f0" textLength="34.11" lengthAdjust="spacingAndGlyphs">L4440</text>
<text x="65.64" y="502.6" font-size="10" fill="#a020f0" textLength="74.28" lengthAdjust="spacingAndGlyphs">(5308 .. 5325)</text>
<text x="98.4" y="453" font-size="11" fill="#a020f0" textLength="68.74" lengthAdjust="spacingAndGlyphs">pBR322ori-F</text>
<text x="17.54" y="453" font-size="10" fill="#a020f0" textLength="74.28" lengthAdjust="spacingAndGlyphs">(5559 .. 5578)</text>
<text x="235.21" y="157.1" font-size="11" fill="#a020f0" textLength="37.72" lengthAdjust="spacingAndGlyphs">Amp-R</text>
<text x="153.54" y="157.1" font-size="10" fill="#a020f0" textLength="74.28" lengthAdjust="spacingAndGlyphs">(6861 .. 6880)</text>
<text x="289.32" y="111.6" font-size="11" fill="#a020f0" textLength="39.03" lengthAdjust="spacingAndGlyphs">F1ori-F</text>
<text x="208.54" y="111.6" font-size="10" fill="#a020f0" textLength="74.28" lengthAdjust="spacingAndGlyphs">(7367 .. 7388)</text>
<text x="362.52" y="73.7" font-size="11" fill="#a020f0" textLength="40.35" lengthAdjust="spacingAndGlyphs">F1ori-R</text>
<text x="281.34" y="73.7" font-size="10" fill="#a020f0" textLength="74.28" lengthAdjust="spacingAndGlyphs">(7579 .. 7598)</text>
<rect x="574.8" y="63.4" width="35.6" height="13.9" rx="3.2" fill="#e0bccd" stroke="#c692aa" stroke-width="1"/>
<text x="576.83" y="73.6" font-size="11" fill="#000" textLength="30.51" lengthAdjust="spacingAndGlyphs">6xHis</text>
<rect x="769.6" y="334.4" width="99.7" height="13.9" rx="3.2" fill="#e0bccd" stroke="#c692aa" stroke-width="1"/>
<text x="771.69" y="344.8" font-size="11" fill="#000" textLength="94.68" lengthAdjust="spacingAndGlyphs">enterokinase site</text>
<rect x="775.7" y="398.9" width="78.7" height="13.3" rx="3.2" fill="#e0bccd" stroke="#c692aa" stroke-width="1"/>
<text x="777.8" y="408.9" font-size="11" fill="#000" textLength="73.71" lengthAdjust="spacingAndGlyphs">thrombin site</text>
<rect x="774.7" y="415.7" width="35.3" height="13.6" rx="3.2" fill="#e0bccd" stroke="#c692aa" stroke-width="1"/>
<text x="776.93" y="425.6" font-size="11" fill="#000" textLength="30.51" lengthAdjust="spacingAndGlyphs">6xHis</text>
<rect x="765.8" y="472.7" width="29.5" height="13.3" rx="3.2" fill="#c3c7ce" stroke="#9ea2aa" stroke-width="1"/>
<text x="767.62" y="482.3" font-size="11" fill="#000" textLength="22.71" lengthAdjust="spacingAndGlyphs">RBS</text>
<rect x="753.5" y="510.6" width="74.7" height="13.1" rx="3.2" fill="#ffffff" stroke="#9a9a9a" stroke-width="1"/>
<text x="756.53" y="520.4" font-size="11" fill="#000" textLength="68.84" lengthAdjust="spacingAndGlyphs">T7 promoter</text>
<text x="475.6" y="398.6" font-size="11.4" font-weight="bold" text-anchor="middle" textLength="60.6" lengthAdjust="spacingAndGlyphs">pET-Gm1</text>
<text x="475.9" y="411.9" font-size="10" text-anchor="middle" textLength="41.42" lengthAdjust="spacingAndGlyphs">7696 bp</text>
<text x="804.6" y="10.2" font-size="7.4" fill="#b4b4b4" font-family="'Liberation Sans',sans-serif" textLength="37" lengthAdjust="spacingAndGlyphs">Created by</text>
<path d="M844.8 1.8h2.6l0.6 1.2v-1.2h1.9c1.3 0 1.3 3.3 0 3.3h-0.9l-1.2 7.2h-1.2z" fill="#7fcdf4"/>
<text x="853.8" y="10.5" font-size="9.6" fill="#8b959f" stroke="#8b959f" stroke-width="0.25" font-family="'Liberation Sans',sans-serif" textLength="44.2" lengthAdjust="spacingAndGlyphs">SnapGene</text>
</svg>
</body></html>
